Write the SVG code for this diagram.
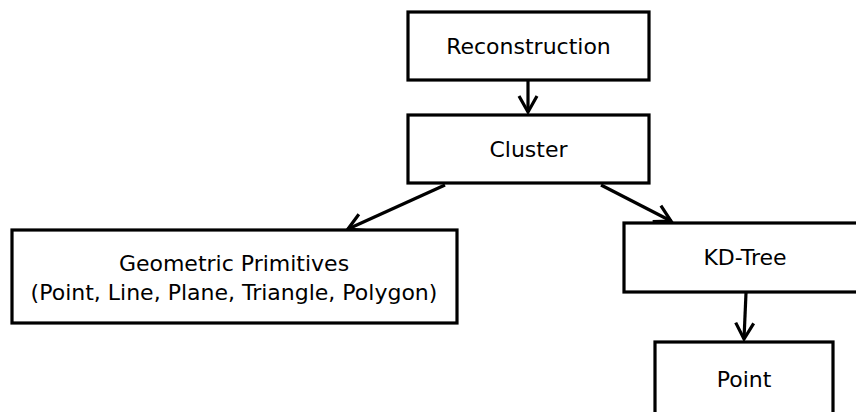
<svg xmlns="http://www.w3.org/2000/svg" width="856" height="412" viewBox="0 0 856 412">
<style>
.box{fill:#fff;stroke:#000;stroke-width:3.2}
.lbl{font-family:"DejaVu Sans",sans-serif;font-size:22px;fill:#000;text-anchor:middle}
.edge{stroke:#000;stroke-width:3.2;fill:none;marker-end:url(#arr)}
</style>
<defs>
<marker id="arr" markerUnits="userSpaceOnUse" markerWidth="30" markerHeight="30" viewBox="-20 -15 30 30" refX="0" refY="0" orient="auto" overflow="visible">
<path d="M-16,-9 L0,0 L-16,9" fill="none" stroke="#000" stroke-width="3.2"/>
</marker>
</defs>
<rect width="856" height="412" fill="#fff"/>
<g id="edges">
<line class="edge" x1="528" y1="81" x2="528" y2="112"/>
<line class="edge" x1="445" y1="185" x2="348" y2="229"/>
<line class="edge" x1="601" y1="185" x2="671" y2="221"/>
<line class="edge" x1="746" y1="293" x2="744" y2="339"/>
</g>
<g id="reconstruction">
<rect class="box" x="408" y="12" width="241" height="68"/>
<text class="lbl" x="528.5" y="53.5">Reconstruction</text>
</g>
<g id="cluster">
<rect class="box" x="408" y="115" width="241" height="68"/>
<text class="lbl" x="528.5" y="156.5">Cluster</text>
</g>
<g id="geometric">
<rect class="box" x="12" y="230" width="445" height="93"/>
<text class="lbl" x="234" y="271">Geometric Primitives</text>
<text class="lbl" x="234" y="299.5">(Point, Line, Plane, Triangle, Polygon)</text>
</g>
<g id="kdtree">
<rect class="box" x="624" y="223" width="242" height="69"/>
<text class="lbl" x="745" y="265">KD-Tree</text>
</g>
<g id="point">
<rect class="box" x="655" y="342" width="178" height="90"/>
<text class="lbl" x="744" y="387">Point</text>
</g>
</svg>
